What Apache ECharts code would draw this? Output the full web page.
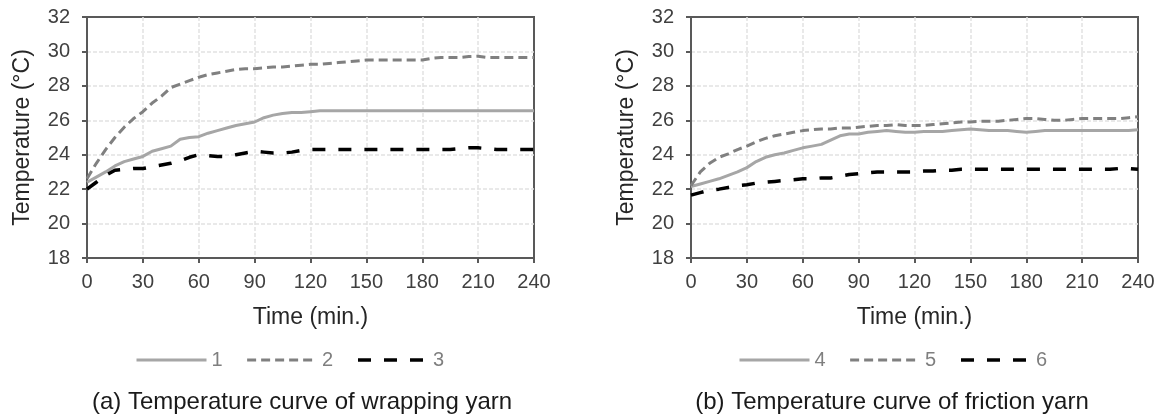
<!DOCTYPE html>
<html>
<head>
<meta charset="utf-8">
<script src="https://cdn.jsdelivr.net/npm/echarts@6/dist/echarts.min.js"></script>
<style>html,body{margin:0;padding:0;background:#fff}#c{width:1161px;height:418px}</style>
</head>
<body>
<div id="c"></div>
<script>
// Time in minutes (every 5 min)
const times = [0,5,10,15,20,25,30,35,40,45,50,55,60,65,70,75,80,85,90,95,100,105,110,115,120,125,130,135,140,145,150,155,160,165,170,175,180,185,190,195,200,205,210,215,220,225,230,235,240];
const xTicks = [0,30,60,90,120,150,180,210,240];
const yTicks = [18,20,22,24,26,28,30,32];

// (a) wrapping yarn
const s1 = [22.4,22.7,23.0,23.35,23.6,23.75,23.9,24.2,24.35,24.5,24.9,25.0,25.05,25.25,25.4,25.55,25.7,25.8,25.9,26.15,26.3,26.4,26.45,26.45,26.5,26.55,26.55,26.55,26.55,26.55,26.55,26.55,26.55,26.55,26.55,26.55,26.55,26.55,26.55,26.55,26.55,26.55,26.55,26.55,26.55,26.55,26.55,26.55,26.55];
const s2 = [22.6,23.5,24.3,25.0,25.6,26.1,26.5,27.0,27.4,27.9,28.1,28.3,28.5,28.65,28.75,28.85,28.95,29.0,29.0,29.05,29.1,29.1,29.15,29.2,29.25,29.25,29.3,29.35,29.4,29.45,29.5,29.5,29.5,29.5,29.5,29.5,29.5,29.6,29.65,29.65,29.65,29.7,29.72,29.65,29.65,29.65,29.65,29.65,29.65];
const s3 = [22.0,22.4,22.8,23.1,23.15,23.2,23.2,23.3,23.4,23.5,23.65,23.85,24.0,23.95,23.9,23.9,24.0,24.1,24.2,24.15,24.1,24.1,24.15,24.25,24.3,24.3,24.3,24.3,24.3,24.3,24.3,24.3,24.3,24.3,24.3,24.3,24.3,24.3,24.3,24.3,24.35,24.4,24.4,24.35,24.3,24.3,24.3,24.3,24.3];
// (b) friction yarn
const s4 = [22.15,22.3,22.45,22.6,22.8,23.0,23.25,23.6,23.85,24.0,24.1,24.25,24.4,24.5,24.6,24.85,25.1,25.2,25.2,25.3,25.35,25.4,25.35,25.3,25.3,25.35,25.35,25.35,25.4,25.45,25.5,25.45,25.4,25.4,25.4,25.35,25.3,25.35,25.4,25.4,25.4,25.4,25.4,25.4,25.4,25.4,25.4,25.4,25.45];
const s5 = [22.2,23.0,23.5,23.85,24.05,24.3,24.5,24.75,24.95,25.1,25.2,25.3,25.4,25.45,25.5,25.5,25.55,25.55,25.6,25.65,25.7,25.7,25.75,25.7,25.7,25.7,25.75,25.8,25.85,25.9,25.9,25.95,25.95,25.95,26.0,26.05,26.1,26.1,26.05,26.0,26.0,26.05,26.1,26.1,26.1,26.1,26.1,26.15,26.2];
const s6 = [21.65,21.8,21.95,22.0,22.1,22.2,22.25,22.35,22.4,22.45,22.5,22.55,22.6,22.6,22.65,22.65,22.75,22.85,22.9,22.95,23.0,23.0,23.0,23.0,23.0,23.05,23.05,23.1,23.1,23.15,23.15,23.15,23.15,23.15,23.15,23.15,23.15,23.15,23.15,23.15,23.15,23.15,23.15,23.15,23.15,23.15,23.2,23.2,23.15];

const names = ['1','2','3','4','5','6'];
const titles = ['(a) Temperature curve of wrapping yarn','(b) Temperature curve of friction yarn'];
const xName = 'Time (min.)';
const yName = 'Temperature (°C)';

const FONT = '"Liberation Sans", Arial, sans-serif';
const pair = arr => times.map((t,i)=>[t,arr[i]]);

const styles = [
  {color:'#a6a6a6', width:3, type:'solid'},
  {color:'#808080', width:3, type:[9,5]},
  {color:'#000000', width:3.5, type:[13,13]}
];

const grids = [
  {left:87, top:17, width:447, height:241},
  {left:691, top:17, width:447, height:241}
];

const splitStyle = {show:true, showMinLine:false, showMaxLine:false, lineStyle:{color:'#e2e2e2', width:1.5, type:[4,2]}};

function xAx(i){
  return {gridIndex:i, type:'value', min:0, max:240, interval:30,
    name:xName, nameLocation:'middle', nameGap:48,
    nameTextStyle:{fontFamily:FONT, fontSize:23, color:'#262626'},
    axisLine:{show:true, lineStyle:{color:'#595959', width:2}},
    axisTick:{show:true, length:5, lineStyle:{color:'#595959', width:2}},
    axisLabel:{fontFamily:FONT, fontSize:20, color:'#404040', margin:14},
    splitLine:splitStyle
  };
}
function yAx(i){
  return {gridIndex:i, type:'value', min:18, max:32, interval:2,
    name:yName, nameLocation:'middle', nameGap:53, nameRotate:90,
    nameTextStyle:{fontFamily:FONT, fontSize:23, color:'#262626'},
    axisLine:{show:true, lineStyle:{color:'#595959', width:2}},
    axisTick:{show:true, length:5, lineStyle:{color:'#595959', width:2}},
    axisLabel:{fontFamily:FONT, fontSize:20, color:'#404040', margin:17},
    splitLine:splitStyle
  };
}
const allData = [s1,s2,s3,s4,s5,s6];
const series = allData.map((d,k)=>{
  const st = styles[k%3];
  const g = Math.floor(k/3);
  return {name:names[k], type:'line', xAxisIndex:g, yAxisIndex:g,
    data:pair(d), symbol:'none', showSymbol:false, silent:true, animation:false,
    lineStyle:{color:st.color, width:st.width, type:st.type},
    itemStyle:{color:st.color}, z:2+(k%3)};
});

const legendBase = {itemWidth:70, itemHeight:14, itemGap:23, padding:0, top:350,
  itemStyle:{opacity:0},
  lineStyle:{width:'inherit', type:'inherit'},
  textStyle:{fontFamily:FONT, fontSize:20, color:'#7f7f7f'}};

const chart = echarts.init(document.getElementById('c'), null, {renderer:'canvas'});
chart.setOption({
  backgroundColor:'#ffffff',
  animation:false,
  title:[
    {text:titles[0], left:297, top:385, textAlign:'center', textStyle:{fontFamily:FONT, fontSize:24, fontWeight:'normal', color:'#1a1a1a'}},
    {text:titles[1], left:887, top:385, textAlign:'center', textStyle:{fontFamily:FONT, fontSize:24, fontWeight:'normal', color:'#1a1a1a'}}
  ],
  legend:[
    Object.assign({data:names.slice(0,3), left:135}, legendBase),
    Object.assign({data:names.slice(3,6), left:738}, legendBase)
  ],
  grid:grids.map(g=>Object.assign({show:true, borderColor:'#595959', borderWidth:2, backgroundColor:'transparent'}, g)),
  xAxis:[xAx(0), xAx(1)],
  yAxis:[yAx(0), yAx(1)],
  series:series
});
</script>
</body>
</html>
